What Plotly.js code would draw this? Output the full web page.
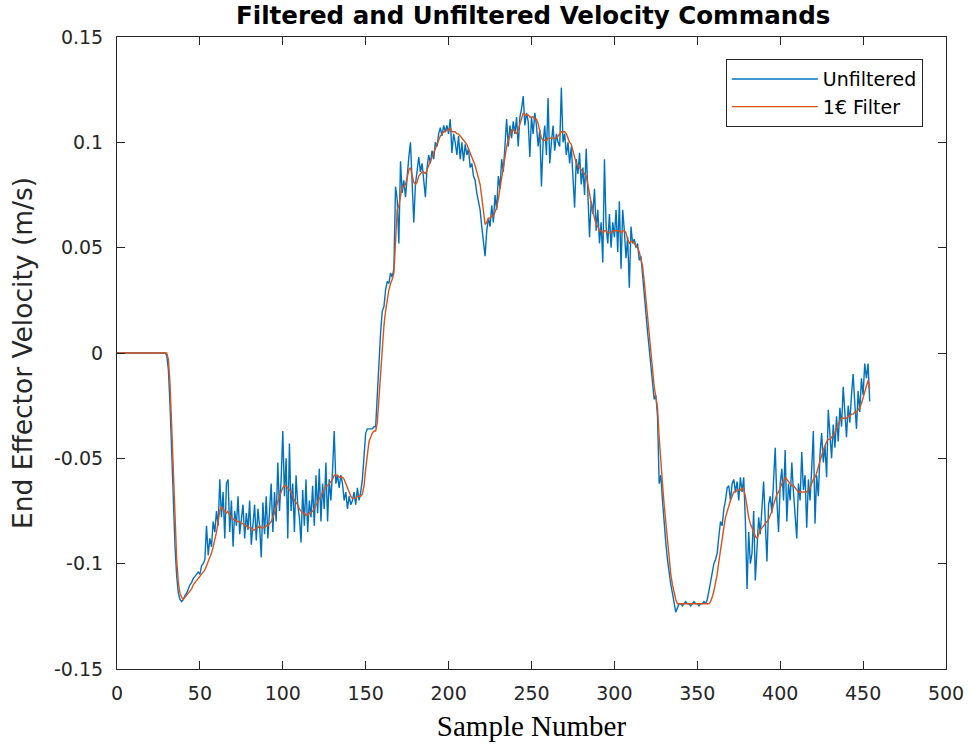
<!DOCTYPE html>
<html>
<head>
<meta charset="utf-8">
<script src="https://cdn.plot.ly/plotly-3.0.1.min.js"></script>
<style>html,body{margin:0;padding:0;background:#fff;}#chart{width:973px;height:748px;}</style>
</head>
<body>
<div id="chart"></div>
<script>
// Samples 0..454
const unfiltered = [
0,0,0,0,0,0,0,0,0,0,0,0,0,0,0,0,0,0,0,0,0,0,0,0,0,0,0,0,0,0,
-0.001,-0.008,-0.025,-0.048,-0.072,-0.092,-0.106,-0.114,-0.117,-0.118,
-0.117,-0.115,-0.114,-0.112,-0.110,-0.109,-0.107,-0.106,-0.105,-0.104,
-0.105,-0.101,-0.100,-0.098,-0.082,-0.096,-0.088,-0.092,-0.080,-0.085,
-0.075,-0.082,-0.060,-0.078,-0.066,-0.088,-0.062,-0.060,-0.085,-0.070,
-0.092,-0.075,-0.082,-0.068,-0.086,-0.078,-0.072,-0.088,-0.076,-0.084,
-0.070,-0.091,-0.079,-0.072,-0.089,-0.074,-0.082,-0.097,-0.071,-0.086,
-0.068,-0.088,-0.075,-0.062,-0.085,-0.066,-0.080,-0.052,-0.075,-0.060,
-0.037,-0.068,-0.050,-0.088,-0.043,-0.075,-0.062,-0.085,-0.058,-0.072,
-0.078,-0.090,-0.065,-0.082,-0.060,-0.085,-0.070,-0.078,-0.063,-0.082,
-0.058,-0.076,-0.055,-0.080,-0.062,-0.074,-0.052,-0.080,-0.060,-0.070,
-0.056,-0.037,-0.062,-0.058,-0.064,-0.058,-0.062,-0.070,-0.066,-0.074,
-0.068,-0.072,-0.070,-0.066,-0.072,-0.064,-0.070,-0.066,-0.060,-0.050,
-0.038,-0.036,-0.036,-0.036,-0.036,-0.035,-0.035,-0.020,-0.002,0.010,
0.020,0.022,0.030,0.034,0.033,0.038,0.036,0.040,0.079,0.073,
0.052,0.091,0.076,0.082,0.074,0.086,0.093,0.100,0.082,0.062,
0.080,0.088,0.093,0.086,0.090,0.082,0.074,0.088,0.094,0.090,
0.096,0.092,0.100,0.098,0.104,0.107,0.103,0.108,0.105,0.108,
0.104,0.111,0.095,0.104,0.100,0.094,0.103,0.092,0.100,0.091,
0.099,0.094,0.097,0.088,0.090,0.084,0.082,0.076,0.072,0.068,
0.060,0.052,0.046,0.058,0.064,0.060,0.070,0.062,0.075,0.068,
0.084,0.078,0.092,0.086,0.100,0.111,0.098,0.108,0.102,0.110,
0.104,0.112,0.098,0.112,0.116,0.122,0.108,0.114,0.110,0.093,
0.112,0.104,0.114,0.108,0.098,0.106,0.079,0.100,0.108,0.094,
0.121,0.090,0.100,0.108,0.096,0.104,0.100,0.098,0.126,0.100,
0.104,0.094,0.100,0.090,0.098,0.084,0.069,0.092,0.085,0.095,
0.080,0.088,0.075,0.097,0.070,0.055,0.072,0.066,0.078,0.058,
0.068,0.052,0.062,0.043,0.092,0.060,0.052,0.066,0.050,0.062,
0.055,0.068,0.048,0.072,0.040,0.068,0.058,0.045,0.055,0.031,
0.060,0.052,0.054,0.050,0.052,0.044,0.046,0.036,0.028,0.020,
0.010,0.002,-0.006,-0.015,-0.022,-0.020,-0.030,-0.062,-0.058,-0.070,
-0.082,-0.090,-0.098,-0.105,-0.110,-0.114,-0.118,-0.123,-0.121,-0.119,
-0.119,-0.120,-0.119,-0.118,-0.119,-0.119,-0.120,-0.119,-0.118,-0.119,
-0.119,-0.120,-0.119,-0.119,-0.118,-0.119,-0.117,-0.113,-0.109,-0.104,
-0.100,-0.098,-0.095,-0.087,-0.080,-0.082,-0.074,-0.070,-0.064,-0.063,
-0.070,-0.062,-0.060,-0.066,-0.061,-0.070,-0.059,-0.066,-0.059,-0.080,
-0.112,-0.085,-0.100,-0.095,-0.075,-0.108,-0.090,-0.078,-0.086,-0.070,
-0.061,-0.080,-0.099,-0.072,-0.068,-0.076,-0.058,-0.045,-0.070,-0.085,
-0.062,-0.055,-0.070,-0.046,-0.080,-0.062,-0.070,-0.052,-0.066,-0.076,
-0.088,-0.062,-0.070,-0.047,-0.065,-0.058,-0.083,-0.060,-0.070,-0.055,
-0.037,-0.081,-0.058,-0.068,-0.048,-0.038,-0.052,-0.044,-0.059,-0.027,
-0.040,-0.050,-0.034,-0.045,-0.030,-0.042,-0.026,-0.035,-0.016,-0.028,
-0.040,-0.025,-0.033,-0.020,-0.010,-0.024,-0.036,-0.018,-0.028,-0.012,
-0.020,-0.005,-0.012,-0.005,-0.023
];
const filtered = [
0,0,0,0,0,0,0,0,0,0,0,0,0,0,0,0,0,0,0,0,0,0,0,0,0,0,0,0,0,0,
0,-0.003,-0.015,-0.035,-0.058,-0.080,-0.098,-0.109,-0.114,-0.116,
-0.117,-0.116,-0.115,-0.114,-0.113,-0.112,-0.110,-0.109,-0.108,-0.107,
-0.106,-0.105,-0.104,-0.103,-0.101,-0.099,-0.097,-0.095,-0.092,-0.089,
-0.085,-0.080,-0.075,-0.073,-0.074,-0.075,-0.076,-0.075,-0.077,-0.078,
-0.079,-0.079,-0.080,-0.080,-0.080,-0.081,-0.081,-0.082,-0.082,-0.083,
-0.083,-0.083,-0.084,-0.084,-0.083,-0.083,-0.082,-0.083,-0.083,-0.083,
-0.082,-0.082,-0.081,-0.080,-0.078,-0.076,-0.073,-0.070,-0.068,-0.066,
-0.064,-0.063,-0.063,-0.064,-0.065,-0.066,-0.068,-0.070,-0.071,-0.072,
-0.074,-0.075,-0.076,-0.076,-0.077,-0.077,-0.076,-0.076,-0.075,-0.074,
-0.072,-0.071,-0.069,-0.068,-0.066,-0.065,-0.063,-0.063,-0.062,-0.061,
-0.060,-0.058,-0.058,-0.058,-0.059,-0.059,-0.059,-0.060,-0.062,-0.064,
-0.066,-0.068,-0.069,-0.069,-0.069,-0.068,-0.068,-0.068,-0.067,-0.063,
-0.055,-0.047,-0.042,-0.040,-0.038,-0.037,-0.037,-0.033,-0.022,-0.010,
0.003,0.013,0.020,0.026,0.030,0.033,0.035,0.038,0.055,0.068,
0.070,0.075,0.079,0.079,0.080,0.083,0.087,0.088,0.085,0.081,
0.080,0.081,0.084,0.085,0.086,0.086,0.085,0.087,0.089,0.091,
0.093,0.095,0.097,0.099,0.101,0.103,0.104,0.105,0.105,0.106,
0.106,0.107,0.105,0.105,0.105,0.104,0.104,0.103,0.102,0.101,
0.100,0.099,0.097,0.095,0.093,0.091,0.089,0.086,0.083,0.080,
0.074,0.066,0.061,0.062,0.064,0.064,0.065,0.065,0.067,0.069,
0.073,0.078,0.084,0.090,0.094,0.098,0.101,0.104,0.106,0.106,
0.105,0.104,0.106,0.109,0.112,0.114,0.113,0.113,0.113,0.112,
0.112,0.112,0.111,0.111,0.109,0.106,0.102,0.101,0.101,0.101,
0.102,0.102,0.102,0.102,0.102,0.102,0.103,0.104,0.105,0.105,
0.105,0.104,0.102,0.100,0.099,0.096,0.093,0.090,0.089,0.088,
0.087,0.086,0.085,0.084,0.080,0.075,0.070,0.067,0.064,0.061,
0.060,0.058,0.058,0.057,0.058,0.058,0.057,0.057,0.057,0.058,
0.058,0.058,0.058,0.058,0.057,0.058,0.058,0.057,0.054,0.052,
0.053,0.053,0.052,0.051,0.050,0.048,0.045,0.041,0.034,0.026,
0.017,0.008,0.000,-0.009,-0.016,-0.021,-0.026,-0.040,-0.054,-0.062,
-0.072,-0.081,-0.090,-0.098,-0.105,-0.110,-0.114,-0.117,-0.119,-0.119,
-0.119,-0.119,-0.119,-0.119,-0.119,-0.119,-0.119,-0.119,-0.119,-0.119,
-0.119,-0.119,-0.119,-0.119,-0.119,-0.119,-0.119,-0.119,-0.118,-0.116,
-0.113,-0.109,-0.105,-0.099,-0.093,-0.088,-0.083,-0.078,-0.075,-0.072,
-0.070,-0.068,-0.066,-0.066,-0.065,-0.065,-0.065,-0.064,-0.065,-0.068,
-0.074,-0.078,-0.081,-0.083,-0.085,-0.087,-0.088,-0.086,-0.084,-0.083,
-0.082,-0.081,-0.080,-0.079,-0.077,-0.075,-0.072,-0.069,-0.067,-0.066,
-0.064,-0.062,-0.061,-0.059,-0.060,-0.061,-0.062,-0.063,-0.063,-0.064,
-0.065,-0.066,-0.066,-0.066,-0.066,-0.066,-0.066,-0.065,-0.064,-0.062,
-0.060,-0.059,-0.057,-0.054,-0.051,-0.048,-0.046,-0.044,-0.042,-0.041,
-0.041,-0.040,-0.039,-0.038,-0.036,-0.034,-0.032,-0.031,-0.031,-0.031,
-0.031,-0.030,-0.030,-0.029,-0.029,-0.028,-0.028,-0.027,-0.026,-0.024,
-0.021,-0.018,-0.015,-0.013,-0.017
];
const seriesNames = ["Unfiltered", "1\u20ac Filter"];
const xTickVals = [0,50,100,150,200,250,300,350,400,450,500];
const yTickVals = [-0.15,-0.1,-0.05,0,0.05,0.1,0.15];
const yTickText = ["-0.15","-0.1","-0.05","0","0.05","0.1","0.15"];

const sampleIdx = unfiltered.map((_, i) => i);
const sampleIdxF = filtered.map((_, i) => i);

const tickFont = {family: 'DejaVu Sans, sans-serif', size: 19, color: '#262626'};
const axisCommon = {
  showgrid: false, zeroline: false, showline: true, linecolor: '#262626', linewidth: 1,
  mirror: 'ticks', ticks: 'inside', ticklen: 8, tickcolor: '#262626', tickwidth: 1,
  tickfont: tickFont
};

const data = [
  {x: sampleIdx, y: unfiltered, type: 'scatter', mode: 'lines', name: seriesNames[0],
   line: {color: '#0072BD', width: 1.4}},
  {x: sampleIdxF, y: filtered, type: 'scatter', mode: 'lines', name: seriesNames[1],
   line: {color: '#D95319', width: 1.4}}
];

const layout = {
  width: 973, height: 748,
  margin: {l: 117, r: 27, t: 37, b: 79},
  paper_bgcolor: '#ffffff', plot_bgcolor: '#ffffff',
  title: {text: '<b>Filtered and Unfiltered Velocity Commands</b>', x: 0.502, xanchor: 'center',
    xref: 'paper', y: 0.98, yanchor: 'middle',
    font: {family: 'DejaVu Sans, sans-serif', size: 24.5, color: '#000'}},
  xaxis: Object.assign({}, axisCommon, {
    range: [0, 500], tickvals: xTickVals, ticktext: xTickVals.map(String),
    ticklabelstandoff: 7,
    title: {text: 'Sample Number', standoff: 12,
      font: {family: 'Liberation Serif, Times New Roman, serif', size: 29, color: '#000'}}
  }),
  yaxis: Object.assign({}, axisCommon, {
    range: [-0.15, 0.15], tickvals: yTickVals, ticktext: yTickText,
    ticklabelstandoff: 9,
    title: {text: 'End Effector Velocity (m/s)', standoff: 13,
      font: {family: 'DejaVu Sans, sans-serif', size: 26.5, color: '#262626'}}
  }),
  showlegend: true,
  legend: {x: 0.972, y: 0.965, xanchor: 'right', yanchor: 'top',
    bgcolor: '#ffffff', bordercolor: '#262626', borderwidth: 1,
    font: {family: 'DejaVu Sans, sans-serif', size: 19, color: '#000'},
    tracegroupgap: 0, itemwidth: 86}
};

Plotly.newPlot('chart', data, layout, {displayModeBar: false, staticPlot: true});
</script>
</body>
</html>
